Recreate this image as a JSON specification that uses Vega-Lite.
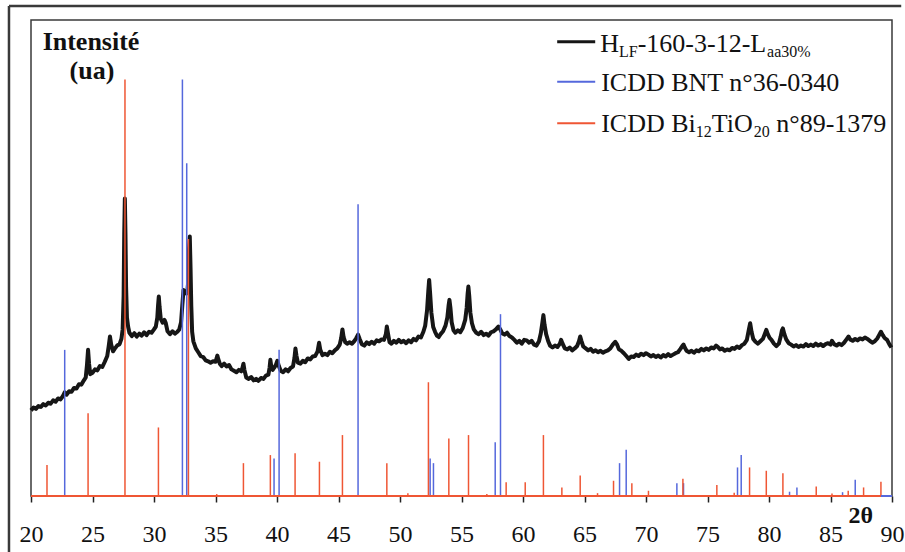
{
"$schema": "https://vega.github.io/schema/vega-lite/v6.json",
"width": 861, "height": 476,
"autosize": {"type": "none"},
"padding": {"left": 31, "top": 20, "right": 13, "bottom": 56},
"background": "white",
"config": {"view": {"stroke": "#3a3a3a", "strokeWidth": 1.5}},
"datasets": {
"curve": [
{"t":20.0,"v":18.0},{"t":20.2,"v":18.6},{"t":20.4,"v":18.3},{"t":20.6,"v":18.9},{"t":20.8,"v":18.7},{"t":21.0,"v":19.3},{"t":21.2,"v":19.0},{"t":21.4,"v":19.6},{"t":21.6,"v":19.4},{"t":21.8,"v":20.1},{"t":22.0,"v":19.8},{"t":22.2,"v":20.5},{"t":22.4,"v":20.3},{"t":22.6,"v":21.0},{"t":22.74,"v":21.8},{"t":22.9,"v":21.3},{"t":23.1,"v":22.0},{"t":23.3,"v":21.9},{"t":23.5,"v":22.7},{"t":23.7,"v":22.6},{"t":23.9,"v":23.5},{"t":24.1,"v":23.4},{"t":24.3,"v":24.3},{"t":24.45,"v":24.9},{"t":24.55,"v":27.5},{"t":24.64,"v":30.7},{"t":24.72,"v":27.8},{"t":24.82,"v":25.6},{"t":25.0,"v":25.9},{"t":25.2,"v":26.6},{"t":25.4,"v":26.4},{"t":25.6,"v":27.3},{"t":25.8,"v":27.1},{"t":26.0,"v":28.2},{"t":26.2,"v":29.4},{"t":26.32,"v":31.5},{"t":26.42,"v":33.5},{"t":26.52,"v":31.8},{"t":26.67,"v":30.4},{"t":26.8,"v":30.9},{"t":27.0,"v":31.6},{"t":27.2,"v":31.9},{"t":27.35,"v":33.0},{"t":27.45,"v":35.0},{"t":27.53,"v":42.0},{"t":27.58,"v":55.0},{"t":27.63,"v":62.5},{"t":27.68,"v":55.0},{"t":27.73,"v":44.0},{"t":27.8,"v":37.5},{"t":27.9,"v":35.5},{"t":28.0,"v":34.3},{"t":28.2,"v":33.6},{"t":28.4,"v":34.2},{"t":28.6,"v":33.5},{"t":28.8,"v":34.1},{"t":29.0,"v":33.7},{"t":29.2,"v":34.4},{"t":29.4,"v":33.8},{"t":29.6,"v":34.5},{"t":29.8,"v":34.3},{"t":30.0,"v":35.0},{"t":30.15,"v":35.6},{"t":30.27,"v":37.5},{"t":30.33,"v":40.0},{"t":30.39,"v":41.9},{"t":30.45,"v":39.8},{"t":30.55,"v":37.2},{"t":30.7,"v":36.4},{"t":30.85,"v":37.0},{"t":30.95,"v":36.4},{"t":31.1,"v":34.6},{"t":31.3,"v":34.0},{"t":31.5,"v":34.6},{"t":31.7,"v":34.1},{"t":31.9,"v":34.5},{"t":32.05,"v":35.0},{"t":32.2,"v":36.5},{"t":32.3,"v":40.0},{"t":32.4,"v":43.3},{"t":32.5,"v":42.5},{"t":32.6,"v":43.0},{"t":32.7,"v":42.6},{"t":32.78,"v":45.0},{"t":32.85,"v":52.0},{"t":32.91,"v":54.5},{"t":32.97,"v":48.0},{"t":33.03,"v":40.0},{"t":33.1,"v":34.5},{"t":33.2,"v":32.5},{"t":33.4,"v":31.0},{"t":33.6,"v":30.2},{"t":33.8,"v":29.4},{"t":34.0,"v":29.2},{"t":34.2,"v":28.5},{"t":34.4,"v":28.3},{"t":34.6,"v":28.0},{"t":34.8,"v":28.3},{"t":35.0,"v":28.2},{"t":35.1,"v":29.0},{"t":35.15,"v":29.5},{"t":35.22,"v":28.8},{"t":35.35,"v":27.8},{"t":35.5,"v":27.3},{"t":35.7,"v":27.8},{"t":35.9,"v":27.2},{"t":36.1,"v":27.5},{"t":36.3,"v":26.6},{"t":36.5,"v":26.3},{"t":36.7,"v":26.0},{"t":36.9,"v":26.5},{"t":37.1,"v":26.2},{"t":37.2,"v":27.0},{"t":37.27,"v":27.8},{"t":37.35,"v":26.5},{"t":37.5,"v":24.9},{"t":37.7,"v":24.6},{"t":37.9,"v":25.0},{"t":38.1,"v":24.3},{"t":38.3,"v":24.6},{"t":38.5,"v":24.2},{"t":38.7,"v":24.8},{"t":38.9,"v":24.6},{"t":39.1,"v":25.3},{"t":39.3,"v":25.5},{"t":39.4,"v":27.0},{"t":39.46,"v":28.6},{"t":39.53,"v":27.3},{"t":39.65,"v":26.5},{"t":39.76,"v":26.9},{"t":39.9,"v":27.5},{"t":40.03,"v":28.4},{"t":40.15,"v":27.3},{"t":40.3,"v":26.3},{"t":40.5,"v":26.0},{"t":40.7,"v":26.6},{"t":40.9,"v":26.2},{"t":41.1,"v":26.9},{"t":41.3,"v":27.2},{"t":41.42,"v":29.0},{"t":41.5,"v":31.0},{"t":41.58,"v":29.5},{"t":41.7,"v":28.0},{"t":41.9,"v":27.8},{"t":42.1,"v":28.4},{"t":42.3,"v":28.1},{"t":42.5,"v":28.9},{"t":42.7,"v":28.7},{"t":42.9,"v":29.3},{"t":43.1,"v":29.4},{"t":43.3,"v":30.4},{"t":43.42,"v":32.2},{"t":43.52,"v":30.7},{"t":43.7,"v":29.6},{"t":43.9,"v":29.9},{"t":44.1,"v":29.6},{"t":44.3,"v":30.3},{"t":44.5,"v":30.0},{"t":44.7,"v":30.6},{"t":44.9,"v":31.0},{"t":45.1,"v":31.8},{"t":45.22,"v":33.2},{"t":45.32,"v":35.0},{"t":45.42,"v":33.3},{"t":45.55,"v":32.3},{"t":45.7,"v":32.0},{"t":45.9,"v":32.3},{"t":46.1,"v":32.0},{"t":46.3,"v":32.6},{"t":46.45,"v":33.2},{"t":46.59,"v":33.9},{"t":46.72,"v":33.0},{"t":46.9,"v":31.9},{"t":47.1,"v":31.6},{"t":47.3,"v":32.3},{"t":47.5,"v":31.9},{"t":47.7,"v":32.4},{"t":47.9,"v":32.0},{"t":48.1,"v":32.7},{"t":48.3,"v":32.5},{"t":48.5,"v":32.9},{"t":48.7,"v":32.8},{"t":48.85,"v":34.0},{"t":48.93,"v":35.6},{"t":49.02,"v":34.2},{"t":49.15,"v":32.3},{"t":49.3,"v":32.0},{"t":49.5,"v":32.6},{"t":49.7,"v":32.2},{"t":49.9,"v":32.8},{"t":50.1,"v":32.3},{"t":50.3,"v":32.6},{"t":50.5,"v":32.1},{"t":50.7,"v":32.7},{"t":50.9,"v":32.3},{"t":51.1,"v":33.0},{"t":51.3,"v":32.7},{"t":51.5,"v":33.5},{"t":51.7,"v":33.3},{"t":51.9,"v":34.5},{"t":52.05,"v":35.8},{"t":52.2,"v":39.0},{"t":52.3,"v":43.0},{"t":52.37,"v":45.4},{"t":52.45,"v":42.5},{"t":52.55,"v":38.5},{"t":52.7,"v":35.5},{"t":52.85,"v":34.5},{"t":53.0,"v":33.7},{"t":53.15,"v":33.4},{"t":53.3,"v":34.0},{"t":53.5,"v":34.6},{"t":53.7,"v":35.8},{"t":53.85,"v":37.5},{"t":53.95,"v":40.0},{"t":54.02,"v":41.2},{"t":54.1,"v":39.5},{"t":54.2,"v":36.5},{"t":54.35,"v":34.8},{"t":54.5,"v":34.3},{"t":54.7,"v":34.8},{"t":54.9,"v":34.4},{"t":55.1,"v":35.3},{"t":55.3,"v":37.0},{"t":55.42,"v":39.5},{"t":55.5,"v":42.5},{"t":55.56,"v":44.0},{"t":55.63,"v":42.0},{"t":55.72,"v":38.5},{"t":55.85,"v":36.3},{"t":56.0,"v":35.0},{"t":56.2,"v":34.3},{"t":56.4,"v":34.0},{"t":56.6,"v":34.5},{"t":56.8,"v":33.8},{"t":57.0,"v":34.1},{"t":57.2,"v":33.7},{"t":57.4,"v":34.4},{"t":57.6,"v":34.6},{"t":57.8,"v":35.0},{"t":58.0,"v":35.6},{"t":58.15,"v":35.0},{"t":58.3,"v":34.2},{"t":58.5,"v":33.9},{"t":58.7,"v":34.3},{"t":58.9,"v":33.6},{"t":59.1,"v":33.3},{"t":59.3,"v":32.8},{"t":59.5,"v":32.2},{"t":59.7,"v":32.6},{"t":59.9,"v":32.0},{"t":60.1,"v":32.8},{"t":60.3,"v":32.7},{"t":60.5,"v":32.2},{"t":60.7,"v":32.6},{"t":60.9,"v":31.8},{"t":61.1,"v":31.6},{"t":61.3,"v":32.5},{"t":61.45,"v":34.2},{"t":61.58,"v":36.5},{"t":61.66,"v":38.0},{"t":61.75,"v":36.0},{"t":61.88,"v":34.0},{"t":62.05,"v":32.5},{"t":62.2,"v":31.6},{"t":62.4,"v":31.2},{"t":62.6,"v":31.6},{"t":62.8,"v":31.3},{"t":63.0,"v":32.0},{"t":63.1,"v":32.8},{"t":63.2,"v":32.1},{"t":63.4,"v":31.0},{"t":63.6,"v":30.8},{"t":63.8,"v":31.2},{"t":64.0,"v":30.6},{"t":64.2,"v":31.0},{"t":64.4,"v":31.5},{"t":64.55,"v":32.5},{"t":64.65,"v":33.5},{"t":64.75,"v":32.6},{"t":64.9,"v":31.4},{"t":65.1,"v":31.0},{"t":65.3,"v":30.6},{"t":65.5,"v":30.9},{"t":65.7,"v":30.3},{"t":65.9,"v":30.6},{"t":66.1,"v":30.2},{"t":66.3,"v":30.5},{"t":66.5,"v":30.1},{"t":66.7,"v":30.4},{"t":66.9,"v":30.6},{"t":67.1,"v":31.0},{"t":67.3,"v":31.8},{"t":67.5,"v":32.4},{"t":67.65,"v":31.8},{"t":67.8,"v":30.8},{"t":68.0,"v":30.5},{"t":68.2,"v":30.0},{"t":68.4,"v":29.4},{"t":68.6,"v":28.8},{"t":68.8,"v":29.3},{"t":69.0,"v":29.2},{"t":69.2,"v":29.7},{"t":69.4,"v":29.4},{"t":69.6,"v":29.9},{"t":69.8,"v":29.6},{"t":70.0,"v":30.0},{"t":70.2,"v":29.7},{"t":70.4,"v":29.3},{"t":70.6,"v":29.6},{"t":70.8,"v":29.2},{"t":71.0,"v":29.5},{"t":71.2,"v":29.1},{"t":71.4,"v":29.6},{"t":71.6,"v":29.3},{"t":71.8,"v":29.8},{"t":72.0,"v":29.4},{"t":72.2,"v":29.7},{"t":72.4,"v":30.0},{"t":72.6,"v":30.2},{"t":72.8,"v":30.9},{"t":72.95,"v":31.5},{"t":73.05,"v":31.8},{"t":73.15,"v":31.2},{"t":73.3,"v":30.5},{"t":73.5,"v":30.2},{"t":73.7,"v":30.5},{"t":73.9,"v":30.1},{"t":74.1,"v":30.6},{"t":74.3,"v":30.4},{"t":74.5,"v":30.9},{"t":74.7,"v":30.6},{"t":74.9,"v":31.0},{"t":75.1,"v":30.7},{"t":75.3,"v":31.2},{"t":75.5,"v":31.0},{"t":75.7,"v":31.6},{"t":75.85,"v":31.3},{"t":76.0,"v":30.8},{"t":76.2,"v":31.0},{"t":76.4,"v":30.5},{"t":76.6,"v":30.8},{"t":76.8,"v":30.6},{"t":77.0,"v":31.1},{"t":77.2,"v":30.9},{"t":77.4,"v":31.4},{"t":77.6,"v":31.1},{"t":77.8,"v":31.7},{"t":78.0,"v":32.0},{"t":78.2,"v":32.8},{"t":78.35,"v":34.8},{"t":78.47,"v":36.3},{"t":78.58,"v":34.5},{"t":78.72,"v":33.0},{"t":78.9,"v":32.4},{"t":79.1,"v":32.0},{"t":79.3,"v":32.5},{"t":79.5,"v":33.0},{"t":79.65,"v":34.0},{"t":79.78,"v":34.9},{"t":79.9,"v":34.0},{"t":80.05,"v":33.2},{"t":80.2,"v":32.8},{"t":80.4,"v":32.0},{"t":80.6,"v":31.5},{"t":80.8,"v":32.0},{"t":80.95,"v":33.5},{"t":81.05,"v":34.8},{"t":81.13,"v":35.2},{"t":81.25,"v":34.0},{"t":81.4,"v":32.9},{"t":81.6,"v":32.1},{"t":81.8,"v":31.8},{"t":82.0,"v":31.4},{"t":82.2,"v":31.7},{"t":82.4,"v":31.3},{"t":82.6,"v":31.6},{"t":82.8,"v":31.4},{"t":83.0,"v":31.9},{"t":83.2,"v":31.5},{"t":83.4,"v":31.8},{"t":83.6,"v":31.5},{"t":83.8,"v":32.0},{"t":84.0,"v":31.6},{"t":84.2,"v":31.9},{"t":84.4,"v":31.5},{"t":84.6,"v":31.9},{"t":84.8,"v":32.1},{"t":85.0,"v":31.8},{"t":85.12,"v":32.6},{"t":85.3,"v":31.9},{"t":85.5,"v":31.6},{"t":85.7,"v":32.0},{"t":85.9,"v":31.7},{"t":86.1,"v":32.2},{"t":86.3,"v":32.9},{"t":86.47,"v":33.5},{"t":86.6,"v":32.9},{"t":86.8,"v":32.6},{"t":87.0,"v":33.0},{"t":87.2,"v":32.7},{"t":87.4,"v":33.1},{"t":87.6,"v":32.9},{"t":87.8,"v":33.3},{"t":88.0,"v":33.0},{"t":88.2,"v":32.6},{"t":88.4,"v":32.2},{"t":88.6,"v":32.5},{"t":88.8,"v":33.1},{"t":88.95,"v":33.8},{"t":89.1,"v":34.5},{"t":89.25,"v":33.8},{"t":89.4,"v":33.2},{"t":89.6,"v":32.8},{"t":89.8,"v":31.8},{"t":89.95,"v":31.2}
],
"bnt": [
{"t":22.74,"v":30.7},{"t":32.31,"v":87.5},{"t":32.66,"v":69.9},{"t":39.76,"v":7.9},{"t":40.17,"v":30.7},{"t":46.59,"v":61.3},{"t":52.45,"v":7.9},{"t":52.72,"v":6.9},{"t":57.74,"v":11.3},{"t":58.17,"v":38.2},{"t":67.85,"v":6.9},{"t":68.39,"v":9.7},{"t":72.51,"v":2.7},{"t":73.05,"v":2.7},{"t":77.44,"v":6.0},{"t":77.74,"v":8.6},{"t":81.67,"v":0.9},{"t":82.27,"v":1.8},{"t":85.98,"v":0.8},{"t":87.01,"v":3.4}
],
"bi": [
{"t":21.30,"v":6.5},{"t":24.64,"v":17.4},{"t":27.64,"v":87.5},{"t":30.36,"v":14.4},{"t":32.8,"v":54.0},{"t":35.1,"v":0.4},{"t":37.27,"v":6.9},{"t":39.46,"v":8.6},{"t":41.47,"v":9.0},{"t":43.45,"v":7.2},{"t":45.32,"v":12.8},{"t":48.93,"v":6.9},{"t":50.64,"v":0.6},{"t":52.31,"v":23.9},{"t":53.97,"v":12.1},{"t":55.57,"v":12.8},{"t":57.06,"v":0.4},{"t":58.63,"v":2.9},{"t":60.18,"v":2.9},{"t":61.66,"v":12.8},{"t":63.16,"v":1.8},{"t":64.65,"v":4.3},{"t":66.06,"v":0.6},{"t":67.36,"v":3.2},{"t":68.85,"v":2.7},{"t":70.2,"v":1.1},{"t":73.0,"v":3.6},{"t":75.76,"v":2.3},{"t":77.17,"v":0.7},{"t":78.42,"v":6.0},{"t":79.78,"v":5.3},{"t":81.13,"v":4.8},{"t":83.84,"v":2.0},{"t":85.12,"v":0.5},{"t":86.44,"v":1.1},{"t":87.69,"v":1.8},{"t":89.10,"v":3.0}
]
},
"layer": [
{
"data": {"name": "curve"},
"mark": {"type": "line", "color": "#161616", "strokeWidth": 4, "strokeJoin": "round"},
"encoding": {
"x": {"field": "t", "type": "quantitative", "scale": {"domain": [20, 90], "nice": false, "zero": false},
"axis": {"values": [20,25,30,35,40,45,50,55,60,65,70,75,80,85,90], "title": null, "domain": false, "grid": false, "tickColor": "#222", "tickWidth": 1.5, "tickSize": 6, "labelFont": "Liberation Serif", "labelFontSize": 24, "labelColor": "#111", "labelPadding": 20, "labelFlush": false, "labelOverlap": false}},
"y": {"field": "v", "type": "quantitative", "scale": {"domain": [0, 100], "nice": false, "zero": false}, "axis": null}
}
},
{
"data": {"name": "bnt"},
"mark": {"type": "rule", "color": "#5568dc", "strokeWidth": 1.5},
"encoding": {"x": {"field": "t", "type": "quantitative"}, "y": {"field": "v", "type": "quantitative"}, "y2": {"datum": 0}}
},
{
"data": {"name": "bi"},
"mark": {"type": "rule", "color": "#ef5634", "strokeWidth": 1.5},
"encoding": {"x": {"field": "t", "type": "quantitative"}, "y": {"field": "v", "type": "quantitative"}, "y2": {"datum": 0}}
},
{
"data": {"values": [{}]},
"mark": {"type": "rule", "color": "#5568dc", "strokeWidth": 2},
"encoding": {"x": {"datum": 20, "type": "quantitative"}, "x2": {"datum": 90}, "y": {"datum": 0, "type": "quantitative"}}
},
{
"data": {"values": [{}]},
"mark": {"type": "rule", "color": "#ef5634", "strokeWidth": 2},
"encoding": {"x": {"datum": 20, "type": "quantitative"}, "x2": {"datum": 89.1}, "y": {"datum": 0, "type": "quantitative"}}
},
{
"data": {"values": [{}]},
"mark": {"type": "rule", "color": "#3a3a3a", "strokeWidth": 2.5},
"encoding": {"x": {"datum": 18.21, "type": "quantitative"}, "y": {"datum": -12, "type": "quantitative"}, "y2": {"datum": 102.94}}
},
{
"data": {"values": [{}]},
"mark": {"type": "rule", "color": "#3a3a3a", "strokeWidth": 2.5},
"encoding": {"x": {"datum": 18.21, "type": "quantitative"}, "x2": {"datum": 90.75}, "y": {"datum": 102.94, "type": "quantitative"}}
},
{
"data": {"values": [{}]},
"mark": {"type": "text", "text": "Intensité", "font": "Liberation Serif", "fontWeight": "bold", "fontSize": 26, "align": "center", "baseline": "alphabetic", "color": "#111"},
"encoding": {"x": {"datum": 24.88, "type": "quantitative"}, "y": {"datum": 93.7, "type": "quantitative"}}
},
{
"data": {"values": [{}]},
"mark": {"type": "text", "text": "(ua)", "font": "Liberation Serif", "fontWeight": "bold", "fontSize": 26, "align": "center", "baseline": "alphabetic", "color": "#111"},
"encoding": {"x": {"datum": 24.96, "type": "quantitative"}, "y": {"datum": 87.67, "type": "quantitative"}}
},
{
"data": {"values": [{}]},
"mark": {"type": "text", "text": "2θ", "font": "Liberation Serif", "fontWeight": "bold", "fontSize": 24, "align": "center", "baseline": "alphabetic", "color": "#111"},
"encoding": {"x": {"datum": 87.46, "type": "quantitative"}, "y": {"datum": -5.67, "type": "quantitative"}}
},
{
"data": {"values": [{}]},
"mark": {"type": "rule", "color": "#161616", "strokeWidth": 3},
"encoding": {"x": {"datum": 62.78, "type": "quantitative"}, "x2": {"datum": 65.87}, "y": {"datum": 95.44, "type": "quantitative"}}
},
{
"data": {"values": [{}]},
"mark": {"type": "rule", "color": "#5568dc", "strokeWidth": 2},
"encoding": {"x": {"datum": 62.78, "type": "quantitative"}, "x2": {"datum": 65.87}, "y": {"datum": 87.04, "type": "quantitative"}}
},
{
"data": {"values": [{}]},
"mark": {"type": "rule", "color": "#ef5634", "strokeWidth": 2},
"encoding": {"x": {"datum": 62.78, "type": "quantitative"}, "x2": {"datum": 65.87}, "y": {"datum": 78.3, "type": "quantitative"}}
},
{
"data": {"values": [{}]},
"mark": {"type": "text", "text": "H", "font": "Liberation Serif", "fontSize": 26, "align": "left", "baseline": "alphabetic", "color": "#111"},
"encoding": {"x": {"datum": 66.275, "type": "quantitative"}, "y": {"datum": 93.38, "type": "quantitative"}}
},
{
"data": {"values": [{}]},
"mark": {"type": "text", "text": "LF", "font": "Liberation Serif", "fontSize": 16, "align": "left", "baseline": "alphabetic", "color": "#111"},
"encoding": {"x": {"datum": 67.804, "type": "quantitative"}, "y": {"datum": 92.33, "type": "quantitative"}}
},
{
"data": {"values": [{}]},
"mark": {"type": "text", "text": "-160-3-12-L", "font": "Liberation Serif", "fontSize": 26, "align": "left", "baseline": "alphabetic", "color": "#111"},
"encoding": {"x": {"datum": 69.325, "type": "quantitative"}, "y": {"datum": 93.38, "type": "quantitative"}}
},
{
"data": {"values": [{}]},
"mark": {"type": "text", "text": "aa30%", "font": "Liberation Serif", "fontSize": 16, "align": "left", "baseline": "alphabetic", "color": "#111"},
"encoding": {"x": {"datum": 79.84, "type": "quantitative"}, "y": {"datum": 92.33, "type": "quantitative"}}
},
{
"data": {"values": [{}]},
"mark": {"type": "text", "text": "ICDD BNT n°36-0340", "font": "Liberation Serif", "fontSize": 26, "align": "left", "baseline": "alphabetic", "color": "#111"},
"encoding": {"x": {"datum": 66.357, "type": "quantitative"}, "y": {"datum": 85.08, "type": "quantitative"}}
},
{
"data": {"values": [{}]},
"mark": {"type": "text", "text": "ICDD Bi", "font": "Liberation Serif", "fontSize": 26, "align": "left", "baseline": "alphabetic", "color": "#111"},
"encoding": {"x": {"datum": 66.357, "type": "quantitative"}, "y": {"datum": 76.37, "type": "quantitative"}}
},
{
"data": {"values": [{}]},
"mark": {"type": "text", "text": "12", "font": "Liberation Serif", "fontSize": 16, "align": "left", "baseline": "alphabetic", "color": "#111"},
"encoding": {"x": {"datum": 74.05, "type": "quantitative"}, "y": {"datum": 75.32, "type": "quantitative"}}
},
{
"data": {"values": [{}]},
"mark": {"type": "text", "text": "TiO", "font": "Liberation Serif", "fontSize": 26, "align": "left", "baseline": "alphabetic", "color": "#111"},
"encoding": {"x": {"datum": 75.35, "type": "quantitative"}, "y": {"datum": 76.37, "type": "quantitative"}}
},
{
"data": {"values": [{}]},
"mark": {"type": "text", "text": "20", "font": "Liberation Serif", "fontSize": 16, "align": "left", "baseline": "alphabetic", "color": "#111"},
"encoding": {"x": {"datum": 78.76, "type": "quantitative"}, "y": {"datum": 75.32, "type": "quantitative"}}
},
{
"data": {"values": [{}]},
"mark": {"type": "text", "text": "n°89-1379", "font": "Liberation Serif", "fontSize": 26, "align": "left", "baseline": "alphabetic", "color": "#111"},
"encoding": {"x": {"datum": 80.59, "type": "quantitative"}, "y": {"datum": 76.37, "type": "quantitative"}}
}
]
}
